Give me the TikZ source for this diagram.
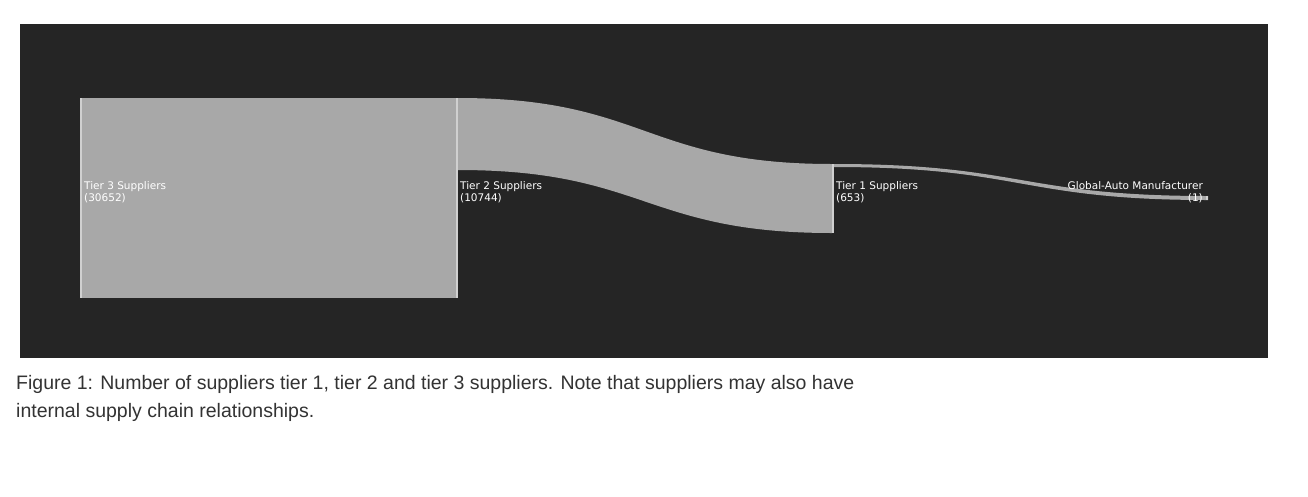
\documentclass[tikz,border=0pt]{standalone}
\usepackage{fontspec}
\setmainfont{DejaVu Sans}
\newfontfamily\capfont{Liberation Sans}
\definecolor{bgdark}{HTML}{252525}
\definecolor{flowgray}{HTML}{A8A8A8}
\definecolor{barlight}{HTML}{D0D0D0}
\definecolor{captext}{HTML}{333333}
\begin{document}
\begin{tikzpicture}[x=1pt,y=-1pt,
  lbl/.style={text=white,font=\fontsize{10.5}{12.5}\selectfont,align=left,inner sep=0pt},
  bar/.style={fill=barlight,draw=none}]
\useasboundingbox (0,0) rectangle (1308,496);
\fill[white] (0,0) rectangle (1308,496);
\fill[bgdark] (20,24) rectangle (1268,358);
% flows
\fill[flowgray] (82,98) rectangle (457,298);
\fill[flowgray] (458,98) .. controls (645,98) and (645,164) .. (832,164) -- (832,233) .. controls (645,233) and (645,170) .. (458,170) -- cycle;
\fill[flowgray] (834,164) .. controls (1021,164) and (1021,196) .. (1208,196) -- (1208,200) .. controls (1021,200) and (1021,167) .. (834,167) -- cycle;
% nodes
\node[bar,minimum width=0pt,inner sep=0pt] (t3) at (81,198) {};
\fill[barlight] (80,98) rectangle (82,298);
\fill[barlight] (456,98) rectangle (458,298);
\fill[barlight] (832,164) rectangle (834,233);
\fill[barlight] (1206,196) rectangle (1208,200);
\node[lbl,anchor=north west,text=white,draw=none] (l3) at (84,181) {Tier 3 Suppliers\\(30652)};
\node[lbl,anchor=north west] (l2) at (460,181) {Tier 2 Suppliers\\(10744)};
\node[lbl,anchor=north west] (l1) at (836,181) {Tier 1 Suppliers\\(653)};
\node[lbl,anchor=north east,align=right] (lg) at (1203,181) {Global-Auto Manufacturer\\(1)};
\node[anchor=north west,text=captext,font=\capfont\fontsize{19.5}{28}\selectfont,align=left,inner sep=0pt] (cap) at (16,375) {Figure 1: Number of suppliers tier 1, tier 2 and tier 3 suppliers. Note that suppliers may also have\\internal supply chain relationships.};
\end{tikzpicture}
\end{document}
